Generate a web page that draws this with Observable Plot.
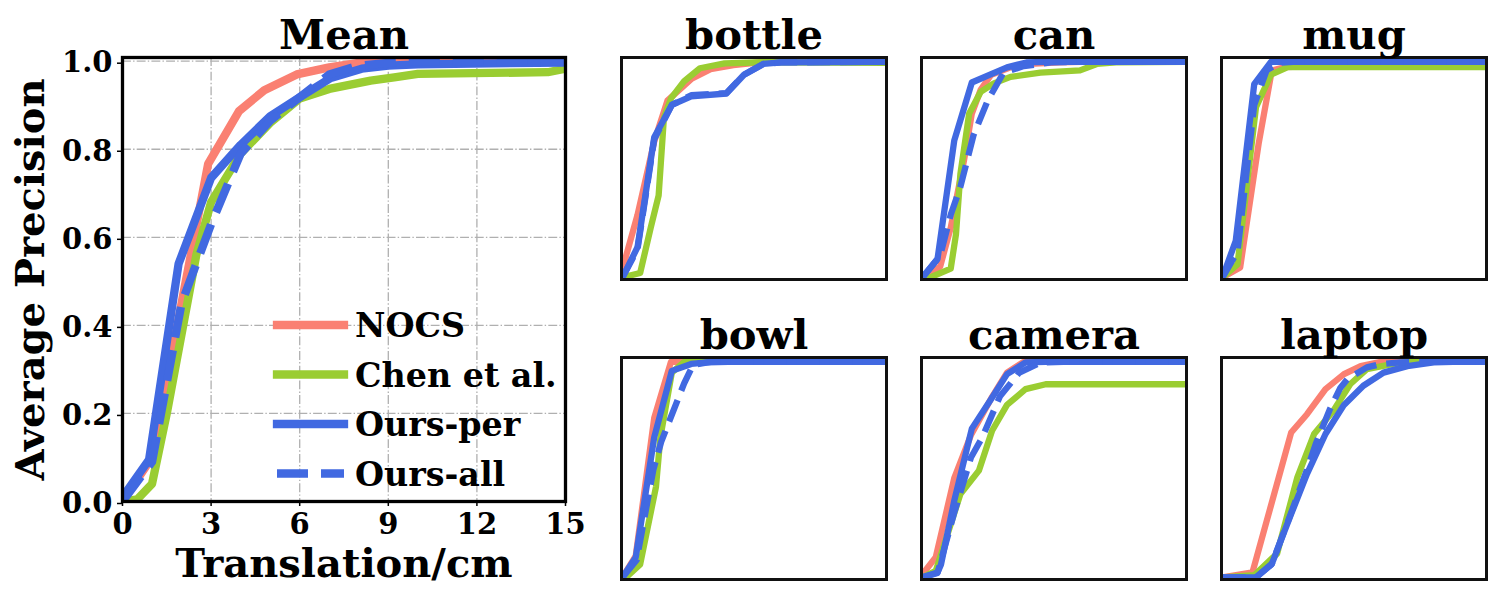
<!DOCTYPE html>
<html><head><meta charset="utf-8">
<script src="https://cdn.jsdelivr.net/npm/d3@7"></script>
<script src="https://cdn.jsdelivr.net/npm/@observablehq/plot@0.6"></script>
<style>
body{margin:0;background:#fff;}
#root{position:relative;width:1500px;height:600px;background:#fff;overflow:hidden;}
.panel{position:absolute;}
</style></head><body><div id="root"></div>
<script>
const methods = ["NOCS", "Chen et al.", "Ours-per", "Ours-all"];
const colors = ["#FA8072", "#9ACD32", "#4169E1", "#4169E1"];
const dashedFlags = [false, false, false, true];
const categories = ["bottle", "can", "mug", "bowl", "camera", "laptop"];
const xTicks = [0, 3, 6, 9, 12, 15];
const yTicks = [0, 0.2, 0.4, 0.6, 0.8, 1.0];
const titleMain = "Mean";
const xLabel = "Translation/cm";
const yLabel = "Average Precision";

// Mean
const meanNOCS = [[0,0.0],[1,0.1],[2,0.45],[2.9,0.767],[3.95,0.887],[4.8,0.934],[5.9,0.97],[7,0.986],[8,0.996],[9,1.0],[15,1.0]];
const meanChen = [[0,0],[0.5,0.005],[1,0.04],[1.5,0.2],[2,0.38],[2.5,0.56],[3,0.68],[4,0.79],[5,0.86],[6,0.915],[7,0.937],[8.4,0.956],[9.2,0.963],[10,0.971],[14.4,0.975],[15,0.983]];
const meanPer = [[0,0.01],[0.9,0.095],[1.9,0.54],[3,0.735],[4,0.81],[5,0.875],[6,0.918],[7.05,0.962],[8.1,0.983],[9,0.99],[10,0.993],[15,0.997]];
const meanAll = [[0,0],[1,0.09],[2,0.45],[3,0.63],[4,0.79],[5,0.865],[6,0.918],[7,0.97],[8,0.99],[9,0.996],[10,1.0],[15,1.0]];

// bottle
const bottleNOCS = [[0,0.04],[0.85,0.29],[1.8,0.63],[2.55,0.82],[3.9,0.92],[5,0.966],[6.3,0.985],[7.8,0.997],[9,1.0],[15,1.0]];
const bottleChen = [[0,0.0],[1.0,0.02],[1.6,0.23],[2.05,0.38],[2.35,0.74],[2.75,0.83],[3.5,0.91],[4.4,0.97],[5.8,0.993],[8,0.998],[15,0.995]];
const bottlePer = [[0,0],[0.85,0.14],[1.8,0.65],[2.8,0.8],[3.9,0.84],[5.9,0.853],[6.9,0.94],[8,0.99],[9,0.997],[15,1.0]];
const bottleAll = [[0,0],[0.85,0.13],[1.8,0.64],[2.8,0.8],[3.9,0.845],[5.9,0.855],[6.9,0.94],[8,0.99],[9,0.997],[15,1.0]];

// can
const canNOCS = [[0,0],[1.0,0.05],[1.6,0.23],[2.35,0.54],[2.8,0.76],[3.3,0.87],[3.9,0.94],[5,0.974],[6.1,0.99],[7.8,0.997],[9,1.0],[15,1.0]];
const canChen = [[0,0],[0.3,-0.005],[1.6,0.04],[1.9,0.2],[2.15,0.48],[2.65,0.76],[3.3,0.86],[4.05,0.9],[5,0.93],[6.7,0.95],[8.95,0.96],[9.9,0.99],[11,0.998],[15,1.0]];
const canPer = [[0,0],[0.85,0.085],[1.8,0.634],[2.8,0.904],[3.9,0.943],[4.8,0.974],[5.9,0.997],[7,1.0],[15,1.0]];
const canAll = [[0,0],[1.0,0.1],[1.6,0.29],[2.15,0.42],[2.9,0.66],[3.7,0.82],[4.6,0.95],[5.75,0.98],[7.3,0.997],[9,1.0],[15,1.0]];

// mug
const mugNOCS = [[0,0],[1.0,0.046],[2.05,0.62],[2.8,0.96],[3.5,0.975],[4.5,0.978],[15,0.978]];
const mugChen = [[0,0],[0.85,0.06],[1.9,0.79],[2.75,0.94],[3.7,0.975],[15,0.975]];
const mugPer = [[0,0],[0.75,0.17],[1.8,0.896],[2.75,1.0],[15,1.0]];
const mugAll = [[0,0],[0.85,0.12],[1.8,0.8],[2.5,0.96],[3.2,0.995],[4,1.0],[15,1.0]];

// bowl
const bowlNOCS = [[0,0],[0.75,0.1],[1.8,0.74],[2.75,1.0],[15,1.0]];
const bowlChen = [[0,0],[0.2,0.0],[1.0,0.06],[1.9,0.42],[2.15,0.65],[2.8,0.95],[3.5,1.0],[15,1.0]];
const bowlPer = [[0,0],[0.75,0.093],[1.8,0.65],[2.8,0.958],[3.9,0.99],[4.8,0.997],[6,1.0],[15,1.0]];
const bowlAll = [[0,0],[0.8,0.08],[1.75,0.5],[2.2,0.63],[3.5,0.9],[4,0.985],[5,1.0],[15,1.0]];

// camera
const cameraNOCS = [[0,0.015],[0.75,0.093],[1.8,0.46],[2.75,0.66],[3.9,0.83],[4.8,0.95],[5.75,1.0],[15,1.0]];
const cameraChen = [[0,0],[0.75,0.03],[2.15,0.386],[3.2,0.495],[3.95,0.68],[4.8,0.8],[5.85,0.873],[7,0.896],[15,0.896]];
const cameraPer = [[0,0],[0.85,0.023],[1.05,0.06],[1.8,0.355],[2.8,0.69],[3.9,0.827],[4.8,0.943],[5.85,0.997],[7,1.0],[15,1.0]];
const cameraAll = [[0,0],[0.85,0.02],[1.8,0.3],[2.75,0.556],[3.4,0.65],[4.4,0.84],[5.5,0.95],[6.7,0.997],[8,1.0],[15,1.0]];

// laptop
const laptopNOCS = [[0,0],[1.7,0.023],[3.9,0.672],[4.8,0.757],[5.85,0.873],[6.9,0.943],[7.85,0.98],[9,1.0],[15,1.0]];
const laptopChen = [[0,0],[1.8,0.01],[3.1,0.11],[4.25,0.464],[5.2,0.665],[6.3,0.773],[7.25,0.896],[8.2,0.966],[9.7,0.99],[10.8,1.0],[15,1.0]];
const laptopPer = [[0,0],[1.9,0],[2.8,0.062],[3.9,0.294],[4.8,0.48],[5.85,0.665],[6.9,0.8],[8,0.889],[9.15,0.95],[10.5,0.98],[12,0.997],[13.1,1.0],[15,1.0]];
const laptopAll = [[0,0],[1.9,0],[2.8,0.062],[3.9,0.3],[4.8,0.5],[5.3,0.62],[6.1,0.78],[6.7,0.88],[7.1,0.92],[8.2,0.974],[9,0.99],[10.1,0.997],[11,1.0],[15,1.0]];

const smallSeries = {
  bottle: [bottleNOCS, bottleChen, bottlePer, bottleAll],
  can: [canNOCS, canChen, canPer, canAll],
  mug: [mugNOCS, mugChen, mugPer, mugAll],
  bowl: [bowlNOCS, bowlChen, bowlPer, bowlAll],
  camera: [cameraNOCS, cameraChen, cameraPer, cameraAll],
  laptop: [laptopNOCS, laptopChen, laptopPer, laptopAll]
};
const meanSeries = [meanNOCS, meanChen, meanPer, meanAll];

const FONT = '"DejaVu Serif", "Liberation Serif", serif';
const baseStyle = {fontFamily: FONT, fontWeight: "bold", color: "#000", background: "transparent", overflow: "visible"};

function lineMarks(list, sw, dash) {
  return list.map((pts, i) => Plot.line(pts, {
    x: d => d[0], y: d => d[1],
    stroke: colors[i], strokeWidth: sw,
    strokeDasharray: dashedFlags[i] ? dash : undefined,
    strokeLinecap: dashedFlags[i] ? "butt" : "square",
    strokeLinejoin: "round",
    clip: true
  }));
}

const root = document.getElementById("root");
function place(node, left, top) {
  const div = document.createElement("div");
  div.className = "panel";
  div.style.left = left + "px";
  div.style.top = top + "px";
  div.appendChild(node);
  root.appendChild(div);
}

const gridStyle = {stroke: "#b0b0b0", strokeOpacity: 1, strokeWidth: 1.3, strokeDasharray: "8.9,2.2,1.4,2.2"};
const centered = {textAnchor: "middle", lineAnchor: "middle"};

const main = Plot.plot({
  width: 600, height: 600,
  marginLeft: 122, marginRight: 35, marginTop: 57, marginBottom: 99,
  x: {domain: [0, 15]},
  y: {domain: [0, 1.0084]},
  style: baseStyle,
  marks: [
    Plot.gridX(xTicks, gridStyle),
    Plot.gridY(yTicks, gridStyle),
    ...lineMarks(meanSeries, 8.3, "31,13"),
    Plot.frame({stroke: "#000", strokeWidth: 3.3}),
    Plot.axisX(xTicks, {tickSize: 5, tickPadding: 7, fontSize: 29, label: null, tickFormat: d => String(d), strokeWidth: 1.5}),
    Plot.axisY(yTicks, {tickSize: 5, tickPadding: 5, fontSize: 29, label: null, tickFormat: d3.format(".1f"), strokeWidth: 1.5, dy: 2}),
    Plot.text([titleMain], {...centered, text: d => d, frameAnchor: "top", dy: -21.6, fontSize: 41.7}),
    Plot.text([xLabel], {...centered, text: d => d, frameAnchor: "bottom", dy: 63, fontSize: 40}),
    Plot.text([yLabel], {...centered, text: d => d, frameAnchor: "left", rotate: -90, dx: -91, fontSize: 40})
  ]
});
place(main, 0, 0);

// legend (drawn over the main panel)
const legendSvg = d3.create("svg").attr("width", 600).attr("height", 600)
  .style("position", "absolute").style("left", "0px").style("top", "0px").style("overflow", "visible");
const legendCenters = [325, 374.5, 424, 473.5];
methods.forEach((m, i) => {
  const cy = legendCenters[i];
  legendSvg.append("line").attr("x1", 277).attr("x2", 344).attr("y1", cy).attr("y2", cy)
    .attr("stroke", colors[i]).attr("stroke-width", 8.3)
    .attr("stroke-linecap", dashedFlags[i] ? "butt" : "square")
    .attr("stroke-dasharray", dashedFlags[i] ? "31,13" : null);
  legendSvg.append("text").attr("x", 355).attr("y", cy + 12)
    .attr("font-family", FONT).attr("font-weight", "bold").attr("font-size", 33.3)
    .attr("fill", "#000").text(m);
});
root.appendChild(legendSvg.node());

const colLefts = [601, 901, 1201];
const rowTops = [0, 300];
categories.forEach((cat, k) => {
  const col = k % 3, row = Math.floor(k / 3);
  const p = Plot.plot({
    width: 299, height: 300,
    marginLeft: 20, marginRight: 14, marginTop: 57, marginBottom: 21,
    x: {domain: [-0.06, 15], axis: null},
    y: {domain: [-0.01, 1.02], axis: null},
    style: baseStyle,
    marks: [
      ...lineMarks(smallSeries[cat], 6.3, "23,10"),
      Plot.frame({stroke: "#111", strokeWidth: 3}),
      Plot.text([cat], {...centered, text: d => d, frameAnchor: "top", dy: -21.6, fontSize: 41.7})
    ]
  });
  place(p, colLefts[col], rowTops[row]);
});
</script></body></html>
